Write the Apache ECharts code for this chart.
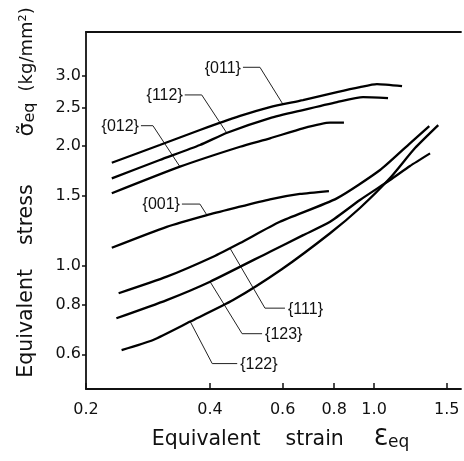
<!DOCTYPE html>
<html><head><meta charset="utf-8">
<script src="https://cdn.jsdelivr.net/npm/echarts@6/dist/echarts.min.js"></script>
<style>html,body{margin:0;padding:0;background:#fff}#c{width:464px;height:461px}</style>
</head><body><div id="c"></div>
<script>
// tick labels
const xTicks = [0.2, 0.4, 0.6, 0.8, 1.0, 1.5];
const yTicks = [0.6, 0.8, 1.0, 1.5, 2.0, 2.5, 3.0];
// series (equivalent strain, equivalent stress kg/mm2)
const strain011 = [0.231, 0.302, 0.378, 0.473, 0.559, 0.672, 0.813, 0.924, 1.016, 1.169];
const stress011 = [1.816, 2.012, 2.194, 2.380, 2.506, 2.609, 2.733, 2.813, 2.862, 2.829];
const strain112 = [0.231, 0.302, 0.378, 0.440, 0.559, 0.672, 0.813, 0.940, 1.081];
const stress112 = [1.659, 1.845, 2.012, 2.160, 2.351, 2.463, 2.579, 2.655, 2.640];
const strain012 = [0.231, 0.338, 0.473, 0.559, 0.672, 0.782, 0.845];
const stress012 = [1.522, 1.775, 1.992, 2.091, 2.216, 2.289, 2.289];
const strain001 = [0.231, 0.314, 0.393, 0.455, 0.559, 0.661, 0.777];
const stress001 = [1.111, 1.254, 1.342, 1.395, 1.470, 1.516, 1.542];
const strain111 = [0.240, 0.314, 0.407, 0.473, 0.591, 0.812, 1.034, 1.222, 1.361];
const stress111 = [0.854, 0.940, 1.055, 1.142, 1.291, 1.478, 1.741, 2.032, 2.245];
const strain123 = [0.237, 0.314, 0.400, 0.559, 0.673, 0.782, 0.924, 1.093, 1.222, 1.367];
const stress123 = [0.739, 0.821, 0.913, 1.086, 1.195, 1.291, 1.464, 1.643, 1.782, 1.917];
const strain122 = [0.244, 0.291, 0.358, 0.455, 0.597, 0.782, 0.924, 1.093, 1.257, 1.431];
const stress122 = [0.615, 0.652, 0.725, 0.821, 0.981, 1.208, 1.398, 1.662, 1.977, 2.258];

const seriesDefs = [
  {name: '{011}', sx: strain011, sy: stress011},
  {name: '{112}', sx: strain112, sy: stress112},
  {name: '{012}', sx: strain012, sy: stress012},
  {name: '{001}', sx: strain001, sy: stress001},
  {name: '{111}', sx: strain111, sy: stress111},
  {name: '{123}', sx: strain123, sy: stress123},
  {name: '{122}', sx: strain122, sy: stress122}
];
// label leader layout: anchor strain, elbow offset (px), horizontal run (px)
const leaders = {
  '{011}': {at: 0.601, dx: -23, dy: -37, h: -17},
  '{112}': {at: 0.439, dx: -25, dy: -38, h: -17},
  '{012}': {at: 0.338, dx: -27, dy: -41, h: -12},
  '{001}': {at: 0.393, dx: -7, dy: -11, h: -18},
  '{111}': {at: 0.447, dx: 35, dy: 60, h: 20},
  '{123}': {at: 0.400, dx: 32, dy: 52, h: 20},
  '{122}': {at: 0.358, dx: 22, dy: 42, h: 25}
};

const L = Math.log10;
const fmt = ticks => v => {
  const t = ticks.find(t => Math.abs(L(t) - v) < 1e-6);
  return t === undefined ? '' : t.toFixed(1);
};
const xMin = L(0.2), xMax = L(1.625);
const yMin = L(0.491), yMax = L(3.867);
const ink = '#111';
const FF = 'DejaVu Sans';
const tickFont = {fontSize: 16, color: ink, fontFamily: FF};

const chart = echarts.init(document.getElementById('c'), null, {renderer: 'canvas'});
chart.setOption({
  animation: false,
  backgroundColor: '#fff',
  grid: {left: 86, right: 3, top: 32, bottom: 72},
  xAxis: [{
    type: 'value', min: xMin, max: xMax,
    axisLine: {onZero: false, lineStyle: {color: ink, width: 1.8}},
    axisTick: {show: true, inside: true, length: 6, customValues: xTicks.map(L), lineStyle: {color: ink, width: 1.5}},
    axisLabel: Object.assign({customValues: xTicks.map(L), formatter: fmt(xTicks), margin: 13}, tickFont),
    splitLine: {show: false},
    name: '{a|Equivalent}{b|strain}{e|Ɛ}{s|eq}',
    nameLocation: 'middle', nameGap: 39,
    nameTextStyle: {
      color: ink, fontFamily: FF, fontSize: 20, padding: [0, 0, 0, 14],
      rich: {
        a: {fontSize: 20.5, fontFamily: FF, color: ink, padding: [0, 25, 0, 0]},
        b: {fontSize: 20.5, fontFamily: FF, color: ink, padding: [0, 30, 0, 0]},
        e: {fontSize: 23, fontFamily: FF, color: ink},
        s: {fontSize: 17, fontFamily: FF, color: ink, lineHeight: 10, verticalAlign: 'bottom'}
      }
    }
  }, {
    type: 'value', position: 'top', min: xMin, max: xMax,
    axisLine: {show: true, onZero: false, lineStyle: {color: ink, width: 1.8}},
    axisTick: {show: false}, axisLabel: {show: false}, splitLine: {show: false}
  }],
  yAxis: {
    type: 'value', min: yMin, max: yMax,
    axisLine: {onZero: false, lineStyle: {color: ink, width: 1.8}},
    axisTick: {show: true, inside: false, length: 4, customValues: yTicks.map(L), lineStyle: {color: ink, width: 1.5}},
    axisLabel: Object.assign({customValues: yTicks.map(L), formatter: fmt(yTicks), margin: 5}, tickFont),
    splitLine: {show: false},
    name: '{a|Equivalent}{b|stress}{g|σ̃}{s|eq}{c|(kg/mm²)}',
    nameLocation: 'middle', nameRotate: 90, nameGap: 48,
    nameTextStyle: {
      color: ink, fontFamily: FF, fontSize: 20, padding: [0, 0, 0, 36],
      rich: {
        a: {fontSize: 20.5, fontFamily: FF, color: ink, padding: [0, 24, 0, 0]},
        b: {fontSize: 20.5, fontFamily: FF, color: ink, padding: [0, 48, 0, 0]},
        g: {fontSize: 22, fontFamily: FF, color: ink},
        s: {fontSize: 16, fontFamily: FF, color: ink, lineHeight: 10, verticalAlign: 'bottom', padding: [0, 11, 0, 0]},
        c: {fontSize: 18, fontFamily: FF, color: ink}
      }
    }
  },
  series: seriesDefs.map(d => ({
    name: d.name, type: 'line', xAxisIndex: 0, smooth: 0.2, showSymbol: false,
    lineStyle: {color: '#000', width: 2.3},
    data: d.sx.map((s, i) => [L(s), L(d.sy[i])])
  }))
});

function interp(sx, sy, x) {
  const lx = L(x);
  for (let i = 0; i < sx.length - 1; i++) {
    const a = L(sx[i]), b = L(sx[i + 1]);
    if (lx >= a && lx <= b) {
      const t = (lx - a) / (b - a);
      return L(sy[i]) + t * (L(sy[i + 1]) - L(sy[i]));
    }
  }
  return L(sy[sy.length - 1]);
}

const graphics = [];
seriesDefs.forEach(d => {
  const g = leaders[d.name];
  const p = chart.convertToPixel({gridIndex: 0}, [L(g.at), interp(d.sx, d.sy, g.at)]);
  const ex = p[0] + g.dx, ey = p[1] + g.dy, hx = ex + g.h;
  graphics.push({
    type: 'polyline', silent: true,
    shape: {points: [[p[0], p[1]], [ex, ey], [hx, ey]]},
    style: {stroke: '#222', lineWidth: 1, fill: null}
  });
  graphics.push({
    type: 'text', silent: true,
    style: {
      text: d.name, x: hx + (g.h < 0 ? -2 : 3), y: ey + 1,
      font: '16px "Liberation Sans"', fill: ink,
      textAlign: g.h < 0 ? 'right' : 'left', textVerticalAlign: 'middle', verticalAlign: 'middle'
    }
  });
});
chart.setOption({graphic: graphics});
</script>
</body></html>
